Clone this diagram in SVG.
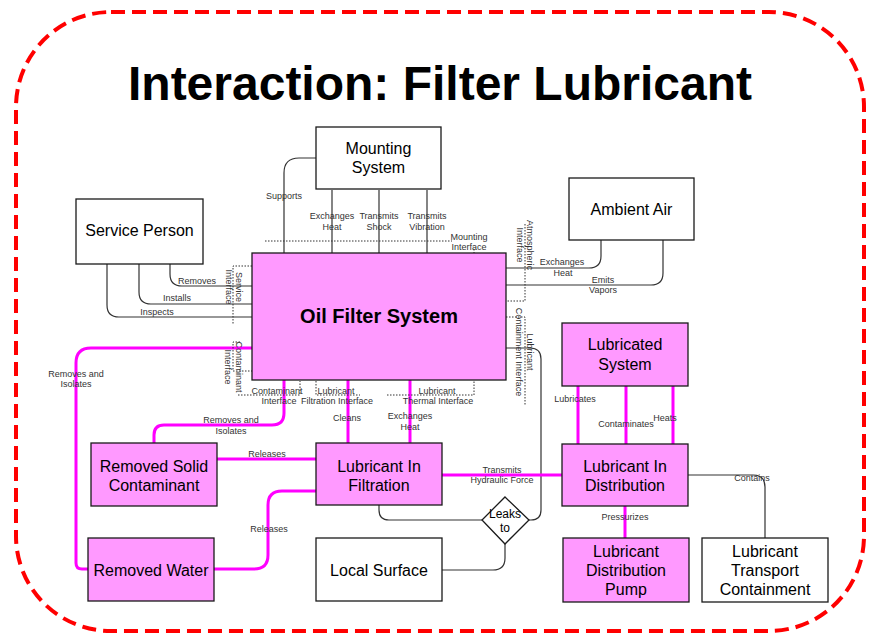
<svg xmlns="http://www.w3.org/2000/svg" width="872" height="635" viewBox="0 0 872 635">
<style>
.node{stroke:#1a1a1a;stroke-width:1.3}
.pink{fill:#FF99FF}
.white{fill:#ffffff}
.nt{font-family:"Liberation Sans",Arial,sans-serif;font-size:16px;fill:#000;text-anchor:middle}
.lbl{font-family:"Liberation Sans",Arial,sans-serif;font-size:9px;fill:#333;text-anchor:middle}
.c{fill:none;stroke:#333;stroke-width:1.2}
.m{fill:none;stroke:#FF00FF;stroke-width:3}
.dot{fill:none;stroke:#333;stroke-width:1;stroke-dasharray:1.5 1.5}
</style>
<rect width="872" height="635" fill="#fff"/>
<rect x="16" y="12" width="848" height="619" rx="95" ry="95" fill="none" stroke="#FF0000" stroke-width="4" stroke-dasharray="14 7"/>
<text x="440" y="100" style="font-family:'Liberation Sans',Arial,sans-serif;font-size:48px;font-weight:bold;text-anchor:middle" fill="#000">Interaction: Filter Lubricant</text>

<g id="connectors">
  <path class="c" d="M316,158 H299 Q284,158 284,173 V253"/>
  <path class="c" d="M332,190 V253"/>
  <path class="c" d="M379,190 V253"/>
  <path class="c" d="M427,190 V253"/>
  <path class="c" d="M170,264 V274 Q170,286 182,286 H252"/>
  <path class="c" d="M139,264 V292 Q139,304 151,304 H252"/>
  <path class="c" d="M107,264 V305 Q107,317 119,317 H252"/>
  <path class="c" d="M506,268 H589 Q601,268 601,256 V240"/>
  <path class="c" d="M506,285 H651 Q663,285 663,273 V240"/>
  <path class="c" d="M506,348 H530 Q541,348 541,359 V510 Q541,520 531,520 H529"/>
  <path class="c" d="M379,505 V510 Q379,520 389,520 H482"/>
  <path class="c" d="M505,544 V558 Q505,570 493,570 H442"/>
  <path class="c" d="M688,475 H753 Q765,475 765,487 V538"/>

  <path class="m" d="M348,380 V443"/>
  <path class="m" d="M410,380 V443"/>
  <path class="m" d="M442,475 H562"/>
  <path class="m" d="M578,386 V444"/>
  <path class="m" d="M626,386 V444"/>
  <path class="m" d="M673,386 V444"/>
  <path class="m" d="M625,506 V538"/>
  <path class="m" d="M252,348 H91 Q76,348 76,363 V563 Q76,569 82,569 H88"/>
  <path class="m" d="M284,380 V413 Q284,425 272,425 H164 Q154,425 154,435 V443"/>
  <path class="m" d="M217,459 H316"/>
  <path class="m" d="M316,491 H282 Q268,491 268,505 V555 Q268,569 254,569 H214"/>

  <path class="dot" d="M265,241 H452"/>
  <path class="dot" d="M474,249 V253"/>
  <path class="dot" d="M252,266 H233 V324"/>
  <path class="dot" d="M240,342 H233 V371 H252"/>
  <path class="dot" d="M238,395 H300 V381"/>
  <path class="dot" d="M316,381 V395 H360"/>
  <path class="dot" d="M387,395 H474 V381"/>
  <path class="dot" d="M525,224 V301 H506"/>
  <path class="dot" d="M506,317 H525 V405"/>

  <text class="lbl" x="284" y="199">Supports</text>
  <text class="lbl" x="332" y="219">Exchanges</text>
  <text class="lbl" x="332" y="230">Heat</text>
  <text class="lbl" x="379" y="219">Transmits</text>
  <text class="lbl" x="379" y="230">Shock</text>
  <text class="lbl" x="427" y="219">Transmits</text>
  <text class="lbl" x="427" y="230">Vibration</text>
  <text class="lbl" x="469" y="240">Mounting</text>
  <text class="lbl" x="469" y="250">Interface</text>
  <text class="lbl" x="197" y="284">Removes</text>
  <text class="lbl" x="177" y="301">Installs</text>
  <text class="lbl" x="157" y="315">Inspects</text>
  <text class="lbl" x="562" y="265">Exchanges</text>
  <text class="lbl" x="563" y="276">Heat</text>
  <text class="lbl" x="603" y="283">Emits</text>
  <text class="lbl" x="603" y="293">Vapors</text>
  <text class="lbl" x="277" y="394">Contaminant</text>
  <text class="lbl" x="279" y="404">Interface</text>
  <text class="lbl" x="336" y="394">Lubricant</text>
  <text class="lbl" x="337" y="404">Filtration Interface</text>
  <text class="lbl" x="437" y="394">Lubricant</text>
  <text class="lbl" x="438" y="404">Thermal Interface</text>
  <text class="lbl" x="347" y="421">Cleans</text>
  <text class="lbl" x="410" y="419">Exchanges</text>
  <text class="lbl" x="410" y="430">Heat</text>
  <text class="lbl" x="76" y="377">Removes and</text>
  <text class="lbl" x="76" y="387">Isolates</text>
  <text class="lbl" x="231" y="423">Removes and</text>
  <text class="lbl" x="231" y="434">Isolates</text>
  <text class="lbl" x="267" y="457">Releases</text>
  <text class="lbl" x="269" y="532">Releases</text>
  <text class="lbl" x="502" y="473">Transmits</text>
  <text class="lbl" x="502" y="483">Hydraulic Force</text>
  <text class="lbl" x="575" y="402">Lubricates</text>
  <text class="lbl" x="626" y="427">Contaminates</text>
  <text class="lbl" x="665" y="421">Heats</text>
  <text class="lbl" x="625" y="520">Pressurizes</text>
  <text class="lbl" x="752" y="481">Contains</text>

  <text class="lbl" transform="translate(235.5,287) rotate(90)">Service</text>
  <text class="lbl" transform="translate(225.5,287) rotate(90)">Interface</text>
  <text class="lbl" transform="translate(235.5,367) rotate(90)">Contaminant</text>
  <text class="lbl" transform="translate(225,367) rotate(90)">Interface</text>
  <text class="lbl" transform="translate(527,245) rotate(90)">Atmospheric</text>
  <text class="lbl" transform="translate(517,245) rotate(90)">Interface</text>
  <text class="lbl" transform="translate(527,352) rotate(90)">Lubricant</text>
  <text class="lbl" transform="translate(516,352) rotate(90)">Containment Interface</text>
</g>

<g id="mounting-system">
  <rect class="node white" x="316" y="127" width="125" height="62"/>
  <text class="nt" x="378.5" y="154">Mounting</text>
  <text class="nt" x="378.5" y="173">System</text>
</g>
<g id="ambient-air">
  <rect class="node white" x="569" y="178" width="125" height="62"/>
  <text class="nt" x="631.5" y="215">Ambient Air</text>
</g>
<g id="service-person">
  <rect class="node white" x="76" y="199" width="127" height="65"/>
  <text class="nt" x="139.5" y="236">Service Person</text>
</g>
<g id="oil-filter-system">
  <rect class="node pink" x="252" y="253" width="254" height="127"/>
  <text x="379" y="323" style="font-family:'Liberation Sans',Arial,sans-serif;font-size:20px;font-weight:bold;text-anchor:middle" fill="#000">Oil Filter System</text>
</g>
<g id="lubricated-system">
  <rect class="node pink" x="562" y="323" width="126" height="63"/>
  <text class="nt" x="625" y="350">Lubricated</text>
  <text class="nt" x="625" y="370">System</text>
</g>
<g id="removed-solid-contaminant">
  <rect class="node pink" x="91" y="443" width="126" height="63"/>
  <text class="nt" x="154" y="472">Removed Solid</text>
  <text class="nt" x="154" y="491">Contaminant</text>
</g>
<g id="lubricant-in-filtration">
  <rect class="node pink" x="316" y="443" width="126" height="62"/>
  <text class="nt" x="379" y="472">Lubricant In</text>
  <text class="nt" x="379" y="491">Filtration</text>
</g>
<g id="lubricant-in-distribution">
  <rect class="node pink" x="562" y="444" width="126" height="62"/>
  <text class="nt" x="625" y="472">Lubricant In</text>
  <text class="nt" x="625" y="491">Distribution</text>
</g>
<g id="leaks-to">
  <polygon class="node white" points="505,497 529,520 505,544 482,520"/>
  <text x="505" y="518" style="font-family:'Liberation Sans',Arial,sans-serif;font-size:12px;text-anchor:middle" fill="#000">Leaks</text>
  <text x="505" y="532" style="font-family:'Liberation Sans',Arial,sans-serif;font-size:12px;text-anchor:middle" fill="#000">to</text>
</g>
<g id="removed-water">
  <rect class="node pink" x="88" y="538" width="126" height="63"/>
  <text class="nt" x="151" y="576">Removed Water</text>
</g>
<g id="local-surface">
  <rect class="node white" x="316" y="538" width="126" height="63"/>
  <text class="nt" x="379" y="576">Local Surface</text>
</g>
<g id="lubricant-distribution-pump">
  <rect class="node pink" x="563" y="538" width="126" height="64"/>
  <text class="nt" x="626" y="557">Lubricant</text>
  <text class="nt" x="626" y="576">Distribution</text>
  <text class="nt" x="626" y="595">Pump</text>
</g>
<g id="lubricant-transport-containment">
  <rect class="node white" x="702" y="538" width="126" height="64"/>
  <text class="nt" x="765" y="557">Lubricant</text>
  <text class="nt" x="765" y="576">Transport</text>
  <text class="nt" x="765" y="595">Containment</text>
</g>
</svg>
